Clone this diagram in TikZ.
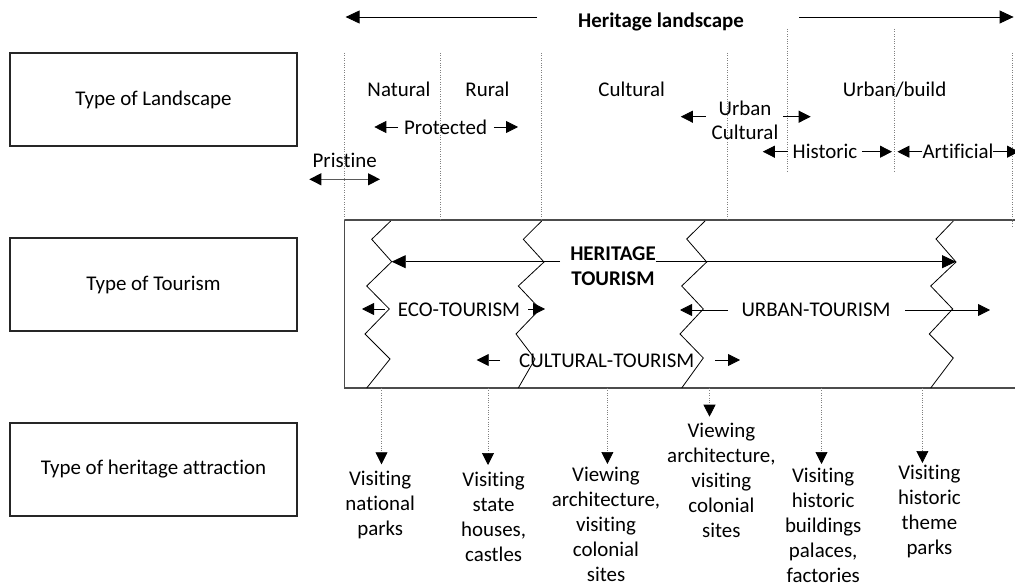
\documentclass[tikz,border=0pt]{standalone}
\usepackage{fontspec}
\setmainfont[Ligatures={NoCommon}]{Carlito}
\usetikzlibrary{arrows.meta}
\begin{document}
\begin{tikzpicture}[x=1bp,y=-1bp,
  txt/.style={font=\fontsize{21}{25}\selectfont, inner sep=0pt, align=center},
  lbl/.style={txt, anchor=base},
  multi/.style={txt, anchor=north},
  sidebox/.style={draw=black!85, line width=1.2bp, minimum width=287bp, minimum height=93bp, font=\fontsize{21}{25}\selectfont, inner sep=0pt},
  dotl/.style={draw=gray, line width=0.7bp, dash pattern=on 0.8bp off 1.6bp},
  arr/.style={-{Triangle[length=12bp,width=12bp]}, line width=0.8bp},
  bigarr/.style={-{Triangle[length=14bp,width=13bp]}, line width=0.8bp},
  downarr/.style={dotl, -{Triangle[length=12bp,width=12bp,color=black]}},
  zz/.style={draw=black, line width=0.8bp}
]
\useasboundingbox (0,0) rectangle (1015,588);

% left boxes
\node[sidebox] (bland) at (153.5,99.5) {Type of Landscape};
\node[sidebox] (btour) at (153.5,284.5) {Type of Tourism};
\node[sidebox] (battr) at (153.5,469.5) {Type of heritage attraction};

% tourism frame
\draw[draw=gray!60!black, line width=1.2bp] (1022,220) -- (344.3,220) -- (344.3,388) -- (1022,388);

% top dotted lines
\draw[dotl] (344.3,53) -- (344.3,220);
\draw[dotl] (440.4,53) -- (440.4,220);
\draw[dotl] (541.7,53) -- (541.7,220);
\draw[dotl] (727.3,53) -- (727.3,220);
\draw[dotl] (787,29) -- (787,173);
\draw[dotl] (894,29) -- (894,173);
\draw[dotl] (1012,53) -- (1012,227);

% heritage landscape
\node[lbl, font=\fontsize{21}{25}\selectfont\bfseries] (hl) at (661,28) {Heritage landscape};
\coordinate (hlL1) at (537,17); \coordinate (hlL2) at (345.6,17);
\coordinate (hlR1) at (799,17); \coordinate (hlR2) at (1013.6,17);
\draw[bigarr] (hlL1) -- (hlL2);
\draw[bigarr] (hlR1) -- (hlR2);

% landscape labels
\node[lbl] (natural) at (399,97) {Natural};
\node[lbl] (rural) at (487.5,97) {Rural};
\node[lbl] (cultural) at (631.7,97) {Cultural};
\node[lbl] (urbanbuild) at (894.6,97) {Urban/build};
\node[multi] (urbcult) at (745,100.3) {Urban\\Cultural};
\node[lbl] (protected) at (445.6,134.3) {Protected};
\node[lbl] (historic) at (825,158.7) {Historic};
\node[lbl] (artificial) at (958,158.7) {Artificial};
\node[lbl] (pristine) at (344.7,168) {Pristine};

\coordinate (ucL1) at (705.8,116.7); \coordinate (ucL2) at (680.8,116.7);
\coordinate (ucR1) at (783.4,116.7); \coordinate (ucR2) at (810.7,116.7);
\draw[arr] (ucL1) -- (ucL2);
\draw[arr] (ucR1) -- (ucR2);

\coordinate (prL1) at (398,127); \coordinate (prL2) at (374.3,127);
\coordinate (prR1) at (493.8,127); \coordinate (prR2) at (518,127);
\draw[arr] (prL1) -- (prL2);
\draw[arr] (prR1) -- (prR2);

\coordinate (hiL1) at (788,151.7); \coordinate (hiL2) at (762.8,151.7);
\coordinate (hiR1) at (861.8,151.7); \coordinate (hiR2) at (892,151.7);
\draw[arr] (hiL1) -- (hiL2);
\draw[arr] (hiR1) -- (hiR2);

\coordinate (arL1) at (922.4,151.7); \coordinate (arL2) at (897.4,151.7);
\coordinate (arR1) at (993,151.7); \coordinate (arR2) at (1019,151.7);
\draw[arr] (arL1) -- (arL2);
\draw[arr] (arR1) -- (arR2);

\coordinate (psL) at (309.3,179.3); \coordinate (psR) at (380,179.3);
\draw[{Triangle[length=12bp,width=12bp,color=black]}-{Triangle[length=12bp,width=12bp,color=black]}, draw=gray!70!black, line width=1.2bp] (psL) -- (psR);

% zigzags
\draw[zz] (390.7,221) -- (371.7,239.3) -- (391.7,261.7) -- (366.7,286) -- (389.3,309) -- (365,334) -- (390,359) -- (366.7,388);
\draw[zz] (541.7,221) -- (523.3,239.3) -- (544,262) -- (518.3,286) -- (540,309) -- (516,334) -- (535,359) -- (518.3,388);
\draw[zz] (705,221) -- (686.7,239) -- (706.7,262) -- (681.7,286) -- (703.3,309) -- (680,334) -- (703.3,358) -- (681.7,388);
\draw[zz] (953.3,221) -- (936,239) -- (956,262) -- (930.7,286) -- (952.7,309) -- (929.3,334) -- (953.3,358) -- (930.7,388);

% tourism labels
\node[multi, font=\fontsize{21}{25}\selectfont\bfseries] (htour) at (613,246.5) {HERITAGE\\TOURISM};
\coordinate (htL1) at (560,261.7); \coordinate (htL2) at (391.7,261.7);
\coordinate (htR1) at (655.5,261.7); \coordinate (htR2) at (956,261.7);
\draw[bigarr] (htL1) -- (htL2);
\draw[bigarr] (htR1) -- (htR2);

\node[lbl] (eco) at (459,316.8) {ECO-TOURISM};
\coordinate (ecL1) at (385,309); \coordinate (ecL2) at (362,309);
\coordinate (ecR1) at (528,309); \coordinate (ecR2) at (545,309);
\draw[arr] (ecL1) -- (ecL2);
\draw[arr] (ecR1) -- (ecR2);

\node[lbl] (urbt) at (816,316.8) {URBAN-TOURISM};
\coordinate (utL1) at (728,310); \coordinate (utL2) at (680,310);
\coordinate (utR1) at (905,310); \coordinate (utR2) at (990,310);
\draw[arr] (utL1) -- (utL2);
\draw[arr] (utR1) -- (utR2);

\node[lbl] (cult) at (606.8,367.5) {CULTURAL-TOURISM};
\coordinate (ctL1) at (500,360); \coordinate (ctL2) at (476.7,360);
\coordinate (ctR1) at (715,360); \coordinate (ctR2) at (740,360);
\draw[arr] (ctL1) -- (ctL2);
\draw[arr] (ctR1) -- (ctR2);

% bottom attractions
\coordinate (d1s) at (381.5,388); \coordinate (d1e) at (381.5,464.3);
\coordinate (d2s) at (488,388);   \coordinate (d2e) at (488,465);
\coordinate (d3s) at (607.4,388); \coordinate (d3e) at (607.4,464);
\coordinate (d4s) at (709.5,388); \coordinate (d4e) at (709.5,416.7);
\coordinate (d5s) at (821.5,388); \coordinate (d5e) at (821.5,464);
\coordinate (d6s) at (922.4,388); \coordinate (d6e) at (922.4,463);
\foreach \i in {1,...,6} \draw[downarr] (d\i s) -- (d\i e);

\node[multi] (a1) at (380.2,470.7) {Visiting\\national\\parks};
\node[multi] (a2) at (493.6,472) {Visiting\\state\\houses,\\castles};
\node[multi] (a3) at (606,467.3) {Viewing\\architecture,\\visiting\\colonial\\sites};
\node[multi] (a4) at (721.4,423) {Viewing\\architecture,\\visiting\\colonial\\sites};
\node[multi] (a5) at (823.2,468) {Visiting\\historic\\buildings\\palaces,\\factories};
\node[multi] (a6) at (929.4,465.3) {Visiting\\historic\\theme\\parks};
\end{tikzpicture}
\end{document}
